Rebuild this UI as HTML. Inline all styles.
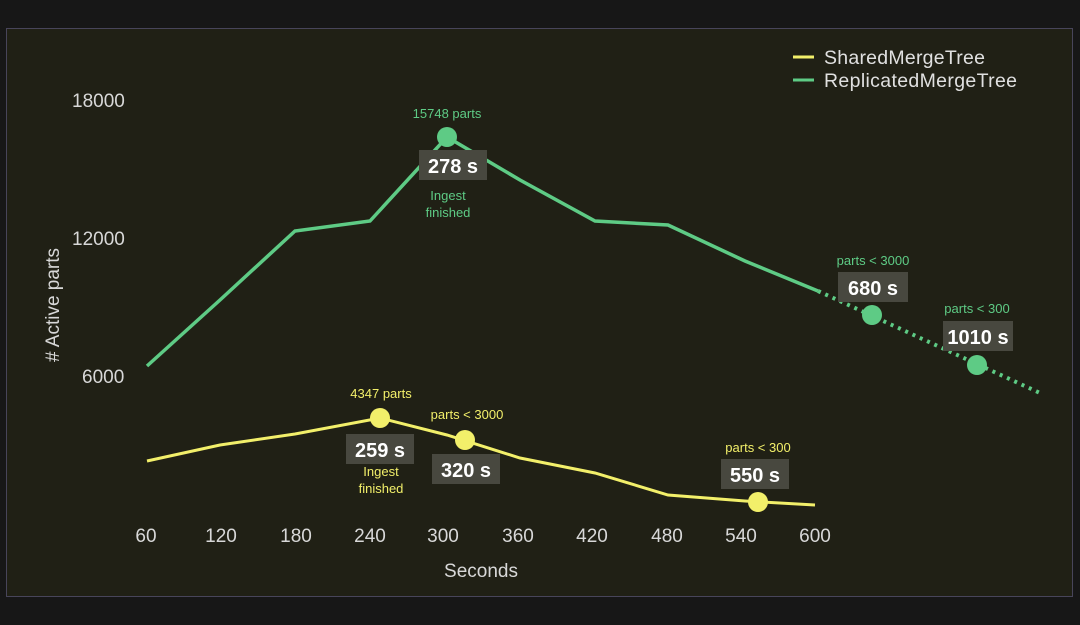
<!DOCTYPE html>
<html><head><meta charset="utf-8"><style>
html,body{margin:0;padding:0;background:#171717;}
svg{display:block;font-family:"Liberation Sans",Arial,sans-serif;}
</style></head><body>
<svg width="1080" height="625" viewBox="0 0 1080 625">
<rect width="1080" height="625" fill="#171717"/>
<rect x="6.5" y="28.5" width="1066" height="568" fill="#202015" stroke="#48455a" stroke-width="1"/>
<g fill="#d8d8d8" font-size="19">
<text x="72" y="107">18000</text>
<text x="72" y="245">12000</text>
<text x="82" y="383">6000</text>
<g text-anchor="middle">
<text x="146" y="542">60</text><text x="221" y="542">120</text><text x="296" y="542">180</text>
<text x="370" y="542">240</text><text x="443" y="542">300</text><text x="518" y="542">360</text>
<text x="592" y="542">420</text><text x="667" y="542">480</text><text x="741" y="542">540</text>
<text x="815" y="542">600</text>
<text x="481" y="577">Seconds</text>
</g>
<text transform="translate(59,305) rotate(-90)" text-anchor="middle"># Active parts</text>
</g>
<g font-size="19.5" fill="#e0e0e0">
<line x1="793" y1="57" x2="814" y2="57" stroke="#f2ef6a" stroke-width="3"/>
<text x="824" y="64" textLength="161">SharedMergeTree</text>
<line x1="793" y1="80" x2="814" y2="80" stroke="#5ecb85" stroke-width="3"/>
<text x="824" y="87" textLength="193">ReplicatedMergeTree</text>
</g>
<polyline fill="none" stroke="#5ecb85" stroke-width="3.5" points="147,366 220,300 295,231 370,221 447,137 520,180 595,221 668,225 745,261 818,291"/>
<line x1="818" y1="291" x2="1040" y2="393" stroke="#5ecb85" stroke-width="4" stroke-dasharray="3,5"/>
<polyline fill="none" stroke="#f2ef6a" stroke-width="3" points="147,461 220,445 295,434 380,418 447,435 520,458 595,473 668,495 745,501 815,505"/>
<g fill="#5ecb85"><circle cx="447" cy="137" r="10"/><circle cx="872" cy="315" r="10"/><circle cx="977" cy="365" r="10"/></g>
<g fill="#f2ef6a"><circle cx="380" cy="418" r="10"/><circle cx="465" cy="440" r="10"/><circle cx="758" cy="502" r="10"/></g>
<g fill="#48483f">
<rect x="419" y="150" width="68" height="30"/>
<rect x="838" y="272" width="70" height="30"/>
<rect x="943" y="321" width="70" height="30"/>
<rect x="346" y="434" width="68" height="30"/>
<rect x="432" y="454" width="68" height="30"/>
<rect x="721" y="459" width="68" height="30"/>
</g>
<g fill="#ffffff" font-size="20" font-weight="bold" text-anchor="middle">
<text x="453" y="173">278 s</text><text x="873" y="295">680 s</text><text x="978" y="344">1010 s</text>
<text x="380" y="457">259 s</text><text x="466" y="477">320 s</text><text x="755" y="482">550 s</text>
</g>
<g fill="#5ecb85" font-size="13" text-anchor="middle">
<text x="447" y="118">15748 parts</text><text x="448" y="200">Ingest</text><text x="448" y="217">finished</text>
<text x="873" y="265">parts &lt; 3000</text><text x="977" y="313">parts &lt; 300</text>
</g>
<g fill="#f2ef6a" font-size="13" text-anchor="middle">
<text x="381" y="398">4347 parts</text><text x="381" y="476">Ingest</text><text x="381" y="493">finished</text>
<text x="467" y="419">parts &lt; 3000</text><text x="758" y="452">parts &lt; 300</text>
</g>
</svg>
</body></html>
